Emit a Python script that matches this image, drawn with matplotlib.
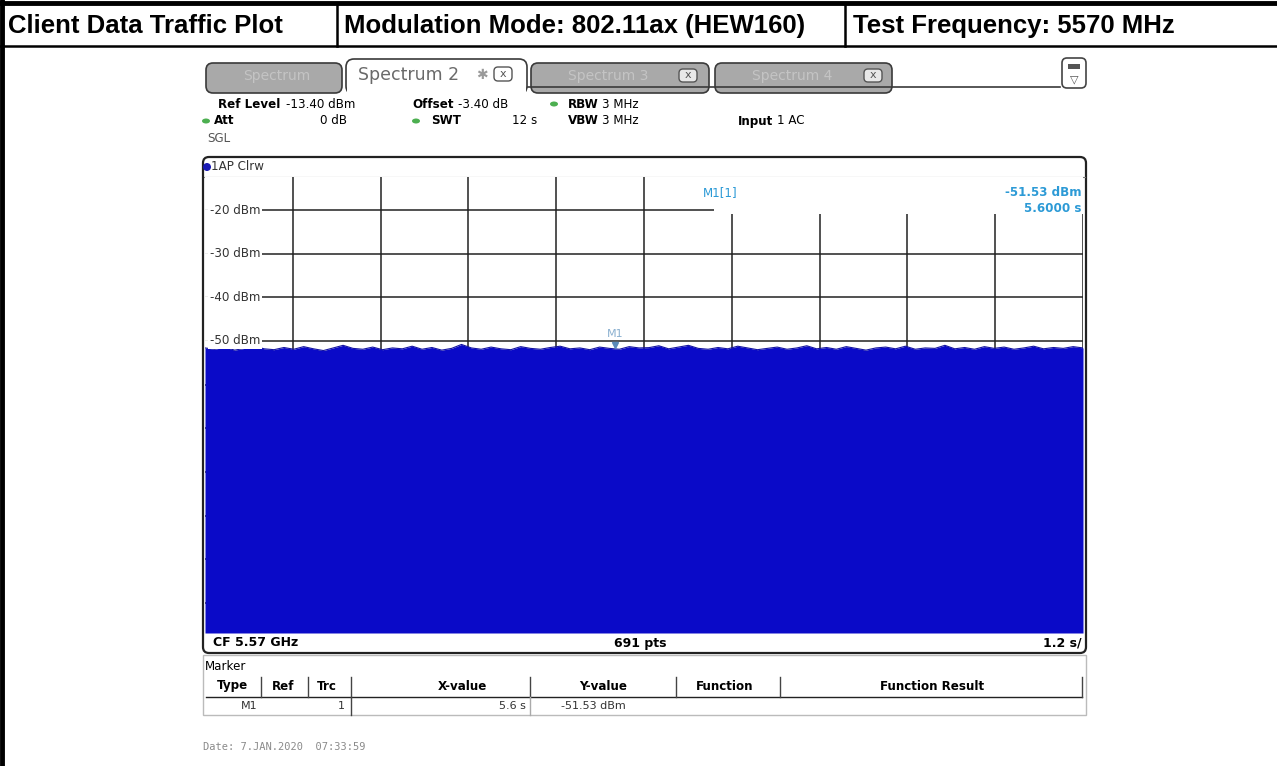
import numpy as np
import matplotlib.pyplot as plt
from matplotlib.patches import Rectangle, FancyBboxPatch, Ellipse

# header row of the report table
head_texts = ["Client Data Traffic Plot", "Modulation Mode: 802.11ax (HEW160)", "Test Frequency: 5570 MHz"]

# analyzer settings
ref_level = -13.4
sweep_time = 12.0
y_ticks = [-20, -30, -40, -50, -60, -70, -80, -90, -100, -110]
y_tick_labels = ["-20 dBm", "-30 dBm", "-40 dBm", "-50 dBm"]

# trace top envelope (dBm), read across the 12 s sweep
trace = [-51.6, -51.9, -51.4, -52.1, -51.7, -51.2, -51.8, -52.0, -51.5, -51.9,
         -51.3, -51.8, -52.2, -51.6, -51.0, -51.7, -51.9, -51.4, -52.0, -51.6,
         -51.8, -51.2, -51.9, -51.5, -52.1, -51.7, -50.8, -51.6, -51.9, -51.4,
         -51.8, -52.0, -51.3, -51.7, -51.9, -51.5, -51.2, -51.8, -51.6, -52.0,
         -51.4, -51.7, -51.9, -51.3, -51.6, -51.53, -51.1, -51.8, -51.4, -51.0,
         -51.7, -51.9, -51.5, -51.8, -51.2, -51.6, -52.0, -51.7, -51.4, -51.9,
         -51.6, -51.1, -51.8, -51.5, -51.9, -51.3, -51.7, -52.1, -51.6, -51.4,
         -51.8, -51.2, -51.9, -51.6, -51.7, -51.0, -51.8, -51.5, -51.9, -51.3,
         -51.7, -51.4, -51.9, -51.6, -51.2, -51.8, -51.5, -51.7, -51.3, -51.6]

m1_x = 5.6
m1_y = -51.53

fig = plt.figure(figsize=(12.77, 7.66), dpi=100)
ax = fig.add_axes([0, 0, 1, 1])
ax.set_xlim(0, 1277)
ax.set_ylim(766, 0)
ax.axis('off')

# ---- report table ----
ax.plot([0, 1277], [3, 3], color='black', lw=3.5)
ax.plot([2, 2], [0, 766], color='black', lw=3.5)
ax.plot([0, 1277], [46, 46], color='black', lw=1.8)
for xd in [337, 845]:
    ax.plot([xd, xd], [3, 46], color='black', lw=1.8)
hx = [8, 344, 853]
for x, s in zip(hx, head_texts):
    ax.text(x, 26, s, fontsize=18.5, fontweight='bold', family='Liberation Sans',
            va='center', ha='left')

# ---- tabs ----
gray_tabs = [(203, 345, "Spectrum"), (528, 712, "Spectrum 3"), (712, 895, "Spectrum 4")]
for x0, x1, lab in gray_tabs:
    ax.add_patch(FancyBboxPatch((x0 + 3, 63), x1 - x0 - 6, 30,
                                boxstyle="round,pad=0,rounding_size=7",
                                fc='#a9a9a9', ec='#3a3a3a', lw=1.2, zorder=2))
    ax.text(x0 + 40, 76, lab, fontsize=10, color='#c4c4c4', va='center', zorder=3)
for xx in [688, 873]:
    ax.add_patch(FancyBboxPatch((xx - 9, 69), 18, 13, boxstyle="round,pad=0,rounding_size=4",
                                fc='#e8e8e8', ec='#555555', lw=1, zorder=3))
    ax.text(xx, 75.5, "x", fontsize=8, ha='center', va='center', color='#555555', zorder=4)
ax.add_patch(FancyBboxPatch((346, 59), 181, 35, boxstyle="round,pad=0,rounding_size=8",
                            fc='white', ec='#3a3a3a', lw=1.2, zorder=4))
ax.add_patch(Rectangle((347, 86), 179, 10, fc='white', ec='none', zorder=5))
ax.text(358, 75, "Spectrum 2", fontsize=12.5, color='#6a6a6a', va='center', zorder=6)
ax.text(476, 75, "\u2731", fontsize=10, color='#9a9a9a', va='center', zorder=6)
ax.add_patch(FancyBboxPatch((494, 67), 18, 14, boxstyle="round,pad=0,rounding_size=4",
                            fc='white', ec='#555555', lw=1, zorder=6))
ax.text(503, 74, "x", fontsize=8, ha='center', va='center', color='#555555', zorder=7)
ax.plot([527, 1060], [87, 87], color='#3a3a3a', lw=1.2, zorder=3)
ax.add_patch(FancyBboxPatch((1062, 58), 24, 30, boxstyle="round,pad=0,rounding_size=5",
                            fc='white', ec='#444444', lw=1.2, zorder=3))
ax.add_patch(Rectangle((1068, 64), 12, 5, fc='#555555', ec='none', zorder=4))
ax.text(1074, 79, "\u25bd", fontsize=8, ha='center', va='center', color='#555555', zorder=4)

# ---- settings block ----
fs = 8.6
ax.text(218, 104, "Ref Level", fontsize=fs, fontweight='bold', va='center')
ax.text(286, 104, "-13.40 dBm", fontsize=fs, va='center')
ax.text(412, 104, "Offset", fontsize=fs, fontweight='bold', va='center')
ax.text(458, 104, "-3.40 dB", fontsize=fs, va='center')
ax.text(568, 104, "RBW", fontsize=fs, fontweight='bold', va='center')
ax.text(602, 104, "3 MHz", fontsize=fs, va='center')
ax.text(214, 121, "Att", fontsize=fs, fontweight='bold', va='center')
ax.text(320, 121, "0 dB", fontsize=fs, va='center')
ax.text(431, 121, "SWT", fontsize=fs, fontweight='bold', va='center')
ax.text(512, 121, "12 s", fontsize=fs, va='center')
ax.text(568, 121, "VBW", fontsize=fs, fontweight='bold', va='center')
ax.text(602, 121, "3 MHz", fontsize=fs, va='center')
ax.text(738, 121, "Input", fontsize=fs, fontweight='bold', va='center')
ax.text(777, 121, "1 AC", fontsize=fs, va='center')
ax.text(207, 139, "SGL", fontsize=fs, color='#555555', va='center')
for gx, gy in [(554, 104), (206, 121), (416, 121)]:
    ax.add_patch(Ellipse((gx, gy), 8, 5, fc='#4caf50', ec='none'))

# ---- diagram frame ----
ax.add_patch(FancyBboxPatch((203, 157), 883, 496, boxstyle="round,pad=0,rounding_size=6",
                            fc='white', ec='#222222', lw=1.6, zorder=1))
ax.plot([204, 1085], [176.5, 176.5], color='#777777', lw=0.8)
ax.add_patch(Ellipse((202 + 5, 167), 8, 8, fc='#1a1ab4', ec='none', zorder=3))
ax.text(211, 167, "1AP Clrw", fontsize=fs, va='center', color='#333333')
ax.text(213, 643, "CF 5.57 GHz", fontsize=9, fontweight='semibold', va='center')
ax.text(640, 643, "691 pts", fontsize=9, fontweight='semibold', va='center', ha='center')
ax.text(1082, 643, "1.2 s/", fontsize=9, fontweight='semibold', va='center', ha='right')

# ---- marker table ----
ax.add_patch(Rectangle((203, 655), 883, 60, fc='white', ec='#bbbbbb', lw=1))
ax.text(205, 667, "Marker", fontsize=fs, va='center')
ax.plot([206, 1082], [697, 697], color='#222222', lw=1)
cols = [(217, "Type", 'left'), (272, "Ref", 'left'), (317, "Trc", 'left'),
        (462, "X-value", 'center'), (603, "Y-value", 'center'),
        (725, "Function", 'center'), (932, "Function Result", 'center')]
for x, s, ha in cols:
    ax.text(x, 686, s, fontsize=fs, fontweight='semibold', va='center', ha=ha)
for xs in [261, 308, 351, 530, 676, 780, 1082]:
    ax.plot([xs, xs], [677, 697], color='#444444', lw=1)
ax.plot([351, 351], [697, 715], color='#444444', lw=1)
ax.plot([530, 530], [697, 715], color='#aaaaaa', lw=1)
ax.text(249, 706, "M1", fontsize=8, va='center', ha='center', color='#333333')
ax.text(345, 706, "1", fontsize=8, va='center', ha='right', color='#333333')
ax.text(526, 706, "5.6 s", fontsize=8, va='center', ha='right', color='#333333')
ax.text(626, 706, "-51.53 dBm", fontsize=8, va='center', ha='right', color='#333333')
ax.text(203, 747, "Date: 7.JAN.2020  07:33:59", fontsize=7.5, family='DejaVu Sans Mono',
        va='center', color='#8a8a8a')

# ---- trace axes ----
tax = fig.add_axes([205 / 1277, 1 - 633 / 766, 878 / 1277, 456 / 766])
y_top = -12.44
y_bot = -116.9
tax.set_xlim(0, sweep_time)
tax.set_ylim(y_bot, y_top)
for yv in y_ticks:
    tax.axhline(yv, color='#222222', lw=1.1, zorder=1)
for xv in np.arange(1.2, 12, 1.2):
    tax.axvline(xv, color='#222222', lw=1.1, zorder=1)
t = np.linspace(0, sweep_time, len(trace))
tax.fill_between(t, trace, y_bot, color='#0a0ac8', lw=0, zorder=2)
tax.plot(t, trace, color='#1414a0', lw=0.8, zorder=3)
# white area behind marker readout
tax.add_patch(Rectangle((6.95, -20.9), 5.1, 9, fc='white', ec='none', zorder=4))
for yv, lab in zip(y_ticks, y_tick_labels):
    tax.text(0.07, yv, lab, fontsize=fs, va='center', ha='left', color='#333333',
             bbox=dict(fc='white', ec='none', boxstyle='square,pad=0.15'), zorder=5)
    tax.plot([0, 0.08], [yv, yv], color='white', lw=2, zorder=4.5)
mcol = '#2c9ad6'
tax.plot([m1_x], [m1_y + 0.6], marker='v', ms=5, color='#5a8ab8', zorder=6)
tax.text(m1_x, m1_y + 3.2, "M1", fontsize=8, color='#8ab0d0', ha='center', va='center', zorder=6)
tax.text(6.8, -15.9, "M1[1]", fontsize=fs, color=mcol, va='center', zorder=6)
tax.text(11.98, -15.9, "-51.53 dBm", fontsize=fs, color=mcol, va='center', ha='right',
         fontweight='semibold', zorder=6)
tax.text(11.98, -19.7, "5.6000 s", fontsize=fs, color=mcol, va='center', ha='right',
         fontweight='semibold', zorder=6)
tax.set_xticks([])
tax.set_yticks([])
for sp in tax.spines.values():
    sp.set_visible(False)

fig.savefig('out.png', dpi=100)
